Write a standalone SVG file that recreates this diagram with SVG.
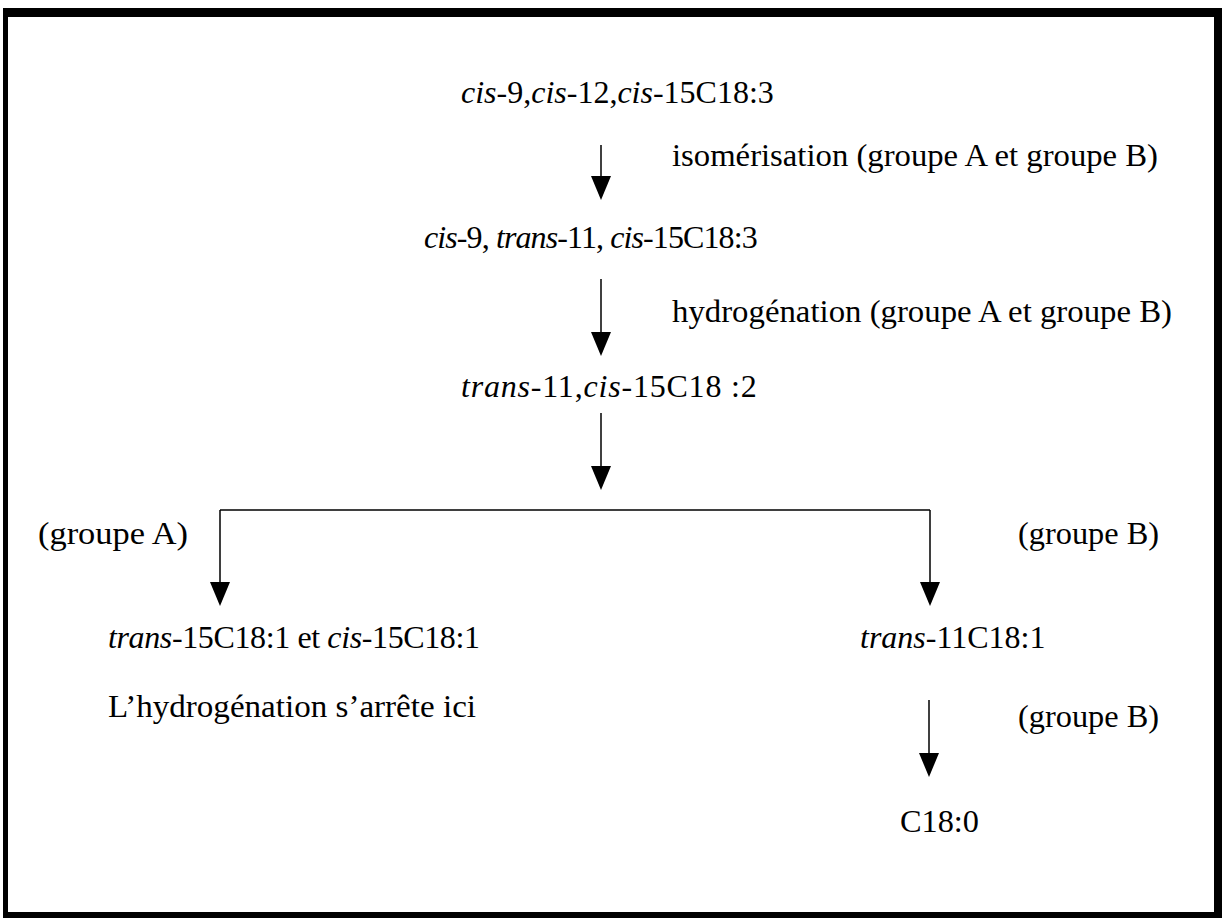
<svg xmlns="http://www.w3.org/2000/svg" width="1226" height="919" viewBox="0 0 1226 919">
<style>
.t{font-size:32px;fill:#000}
.i{font-style:italic}
.ln{stroke:#000;stroke-width:1.5;fill:none}
</style>
<rect width="1226" height="919" fill="#fff"/>
<g id="frame" fill="#000">
<rect x="3" y="8" width="1219" height="9"/>
<rect x="3" y="8" width="5" height="910"/>
<rect x="1214" y="8" width="8" height="910"/>
<rect x="3" y="912" width="1219" height="6"/>
</g>
<g id="connectors">
<path class="ln" d="M601,145 V176"/>
<polygon points="591,176 611,176 601,200"/>
<path class="ln" d="M601,279 V332"/>
<polygon points="591,332 611,332 601,356"/>
<path class="ln" d="M601,413 V466"/>
<polygon points="591,466 611,466 601,490"/>
<path class="ln" d="M220,510 H930 M220,510 V582 M930,510 V582"/>
<polygon points="210,582 230,582 220,606"/>
<polygon points="920,582 940,582 930,606"/>
<path class="ln" d="M929,700 V753"/>
<polygon points="919,753 939,753 929,777"/>
</g>
<g font-family="Liberation Serif, Times New Roman, serif">
<g id="n1"><text class="t" x="461" y="103"><tspan class="i">cis</tspan>-9,<tspan class="i">cis</tspan>-12,<tspan class="i">cis</tspan>-15C18:3</text></g>
<g id="l1"><text class="t" x="672" y="166" textLength="486" lengthAdjust="spacingAndGlyphs">isomérisation (groupe A et groupe B)</text></g>
<g id="n2"><text class="t" x="424" y="248" letter-spacing="-0.9"><tspan class="i">cis</tspan>-9, <tspan class="i">trans</tspan>-11, <tspan class="i">cis</tspan>-15C18:3</text></g>
<g id="l2"><text class="t" x="672" y="322" textLength="500" lengthAdjust="spacingAndGlyphs">hydrogénation (groupe A et groupe B)</text></g>
<g id="n3"><text class="t" x="461" y="397" letter-spacing="0.8"><tspan class="i">trans</tspan>-11,<tspan class="i">cis</tspan>-15C18 :2</text></g>
<g id="lA"><text class="t" x="38" y="544" textLength="150" lengthAdjust="spacingAndGlyphs">(groupe A)</text></g>
<g id="lB"><text class="t" x="1018" y="544" textLength="141" lengthAdjust="spacingAndGlyphs">(groupe B)</text></g>
<g id="n4"><text class="t" x="108" y="648" letter-spacing="-0.38"><tspan class="i">trans</tspan>-15C18:1 et <tspan class="i">cis</tspan>-15C18:1</text></g>
<g id="n5"><text class="t" x="860" y="648"><tspan class="i">trans</tspan>-11C18:1</text></g>
<g id="note"><text class="t" x="108" y="717" textLength="368" lengthAdjust="spacingAndGlyphs">L’hydrogénation s’arrête ici</text></g>
<g id="lB2"><text class="t" x="1018" y="727" textLength="141" lengthAdjust="spacingAndGlyphs">(groupe B)</text></g>
<g id="n6"><text class="t" x="900" y="832" textLength="79" lengthAdjust="spacingAndGlyphs">C18:0</text></g>
</g>
</svg>
